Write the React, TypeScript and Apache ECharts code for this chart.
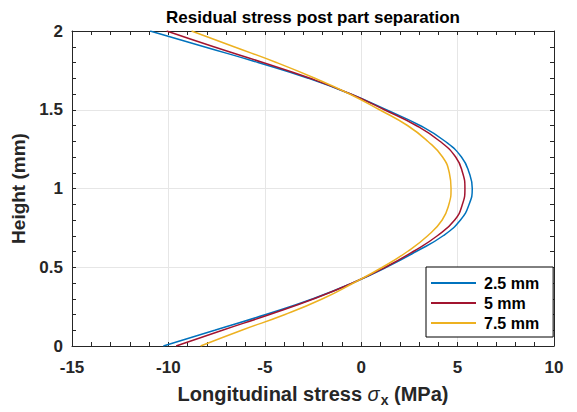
import React, { useEffect, useRef } from "react";
import * as echarts from "echarts";

const heights = [0, 0.1, 0.2, 0.3, 0.4, 0.5, 0.6, 0.7, 0.8, 0.9, 1.0, 1.1, 1.2, 1.3, 1.4, 1.5, 1.6, 1.7, 1.8, 1.9, 2.0];
const stress25 = [-10.26, -7.6, -4.95, -2.5, -0.45, 1.3, 2.85, 4.25, 5.15, 5.6, 5.76, 5.6, 5.2, 4.35, 3.05, 1.3, -0.55, -2.75, -5.35, -8.15, -10.95];
const stress5 = [-9.6, -7.2, -4.75, -2.45, -0.45, 1.25, 2.7, 3.95, 4.85, 5.25, 5.38, 5.26, 4.9, 4.08, 2.85, 1.2, -0.55, -2.65, -5.1, -7.65, -10.09];
const stress75 = [-8.33, -6.2, -3.95, -2.0, -0.4, 1.1, 2.4, 3.45, 4.2, 4.55, 4.66, 4.57, 4.22, 3.45, 2.4, 0.95, -0.6, -2.4, -4.4, -6.6, -8.8];
const seriesNames = ["2.5 mm", "5 mm", "7.5 mm"];
const seriesColors = ["#0072BD", "#A2142F", "#EDB120"];

const FONT = '"Liberation Sans", Arial, Helvetica, sans-serif';
const AX = "#262626";

export default function App() {
  const ref = useRef<HTMLDivElement>(null);
  useEffect(() => {
    if (!ref.current) return;
    const chart = echarts.init(ref.current, null, { renderer: "svg" });
    const all = [stress25, stress5, stress75];
    const axisCommon = {
      type: "value" as const,
      axisLine: { show: true, onZero: false, lineStyle: { color: AX, width: 1 } },
      axisTick: { show: true, inside: true, length: 4, lineStyle: { color: AX } },
      minorTick: { show: true, splitNumber: 5, length: 4, lineStyle: { color: AX } },
    };
    const tickLabel = {
      fontFamily: FONT,
      fontWeight: "bold",
      fontSize: 17,
      color: AX,
      formatter: (v: number) => `{b|${v}}`,
      rich: { b: { fontFamily: FONT, fontWeight: "bold", fontSize: 17, color: AX } },
    };
    chart.setOption({
      animation: false,
      backgroundColor: "#ffffff",
      grid: { left: 72, right: 23, top: 31, bottom: 65, containLabel: false },
      graphic: [
        {
          type: "text",
          x: 313,
          y: 17,
          style: {
            text: "Residual stress post part separation",
            fill: "#000",
            font: `bold 17px ${FONT}`,
            textAlign: "center",
            textVerticalAlign: "middle",
          },
        },
      ],
      legend: {
        orient: "vertical",
        left: 426,
        top: 267,
        backgroundColor: "#ffffff",
        borderColor: "#000000",
        borderWidth: 1,
        padding: [8, 14, 6, 5],
        itemGap: 4,
        itemWidth: 45,
        itemHeight: 2,
        icon: "rect",
        data: seriesNames,
        textStyle: {
          fontFamily: FONT,
          fontWeight: "bold",
          fontSize: 16,
          color: "#000",
          padding: [0, 0, 0, 3],
          lineHeight: 16,
        },
      },
      xAxis: [
        {
          ...axisCommon,
          min: -15,
          max: 10,
          interval: 5,
          position: "bottom",
          splitLine: { show: true, lineStyle: { color: "#e6e6e6", width: 1 } },
          axisLabel: { ...tickLabel, margin: 13 },
          name: "{a|Longitudinal stress }{s|σ}{x|x}{a| (MPa)}",
          nameLocation: "middle",
          nameGap: 35,
          nameTextStyle: {
            rich: {
              a: { fontFamily: FONT, fontWeight: "bold", fontSize: 20, color: AX },
              s: { fontFamily: FONT, fontStyle: "italic", fontWeight: "normal", fontSize: 20, color: AX },
              x: { fontFamily: FONT, fontWeight: "bold", fontSize: 14, color: AX, padding: [12, 0, 0, 1] },
            },
          },
        },
        {
          ...axisCommon,
          min: -15,
          max: 10,
          interval: 5,
          position: "top",
          splitLine: { show: false },
          axisLabel: { show: false },
        },
      ],
      yAxis: [
        {
          ...axisCommon,
          min: 0,
          max: 2,
          interval: 0.5,
          position: "left",
          splitLine: { show: true, lineStyle: { color: "#e6e6e6", width: 1 } },
          axisLabel: { ...tickLabel, margin: 9 },
          name: "Height (mm)",
          nameLocation: "middle",
          nameGap: 38,
          nameRotate: 90,
          nameTextStyle: { fontFamily: FONT, fontWeight: "bold", fontSize: 19, color: AX },
        },
        {
          ...axisCommon,
          min: 0,
          max: 2,
          interval: 0.5,
          position: "right",
          splitLine: { show: false },
          axisLabel: { show: false },
        },
      ],
      series: seriesNames.map((name, i) => ({
        name,
        type: "line",
        xAxisIndex: 0,
        yAxisIndex: 0,
        showSymbol: false,
        symbol: "none",
        smooth: true,
        color: seriesColors[i],
        lineStyle: { color: seriesColors[i], width: 1.5 },
        data: heights.map((h, k) => [all[i][k], h]),
      })),
    });
    return () => chart.dispose();
  }, []);
  return <div ref={ref} style={{ position: "absolute", left: 0, top: 0, width: 577, height: 412 }} />;
}
